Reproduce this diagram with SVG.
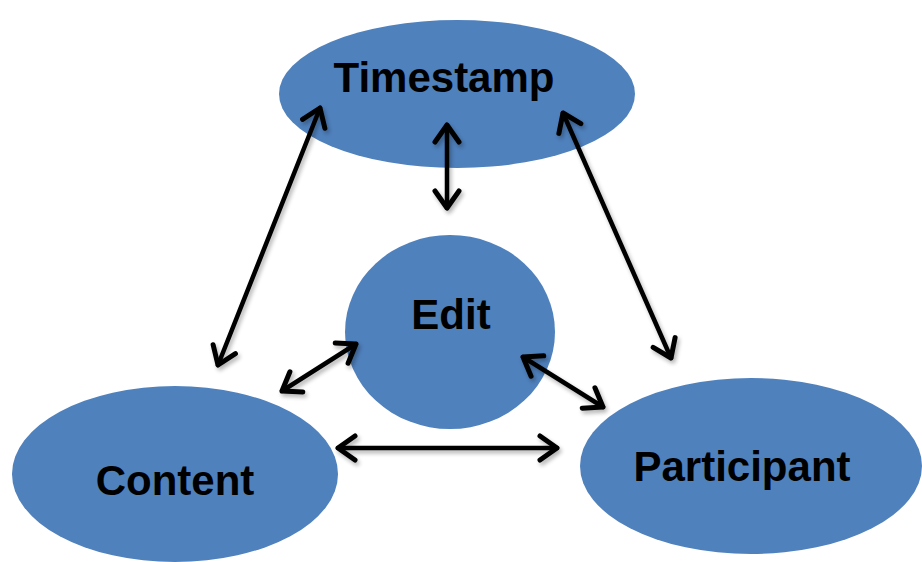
<svg xmlns="http://www.w3.org/2000/svg" width="922" height="562" viewBox="0 0 922 562">
<style>
.node{fill:#4F81BD;}
.lbl{font-family:"Liberation Sans",Arial,sans-serif;font-weight:bold;font-size:42px;fill:#000;text-anchor:middle;}
.con{stroke:#000;stroke-width:4.5;fill:none;stroke-linecap:round;marker-start:url(#ah);marker-end:url(#ah);}
</style>
<defs>
<marker id="ah" markerUnits="userSpaceOnUse" viewBox="-22 -16 26 32" refX="0" refY="0" markerWidth="26" markerHeight="32" orient="auto-start-reverse">
<polyline points="-17,-12 0,0 -17,12" fill="none" stroke="#000" stroke-width="5" stroke-linecap="round" stroke-linejoin="round"/>
</marker>
<filter id="sh" filterUnits="userSpaceOnUse" x="0" y="0" width="922" height="562">
<feGaussianBlur in="SourceAlpha" stdDeviation="2"/>
<feOffset dx="2" dy="3" result="b"/>
<feComponentTransfer><feFuncA type="linear" slope="0.3"/></feComponentTransfer>
<feMerge><feMergeNode/><feMergeNode in="SourceGraphic"/></feMerge>
</filter>
</defs>
<rect width="922" height="562" fill="#fff"/>
<g id="timestamp"><ellipse class="node" cx="457" cy="94" rx="178" ry="74"/><text class="lbl" x="444" y="92">Timestamp</text></g>
<g id="edit"><ellipse class="node" cx="450" cy="332" rx="105" ry="97"/><text class="lbl" x="451" y="329">Edit</text></g>
<g id="content"><ellipse class="node" cx="175" cy="474" rx="163" ry="88"/><text class="lbl" x="175" y="495">Content</text></g>
<g id="participant"><ellipse class="node" cx="751" cy="466" rx="171" ry="88"/><text class="lbl" x="742" y="481">Participant</text></g>
<g id="connectors" filter="url(#sh)">
<line class="con" x1="320" y1="108" x2="218" y2="365"/>
<line class="con" x1="447" y1="125" x2="447" y2="208"/>
<line class="con" x1="563" y1="113" x2="671" y2="358"/>
<line class="con" x1="356" y1="344" x2="282" y2="391"/>
<line class="con" x1="523" y1="357" x2="603" y2="407"/>
<line class="con" x1="338" y1="448" x2="557" y2="448"/>
</g>
</svg>
